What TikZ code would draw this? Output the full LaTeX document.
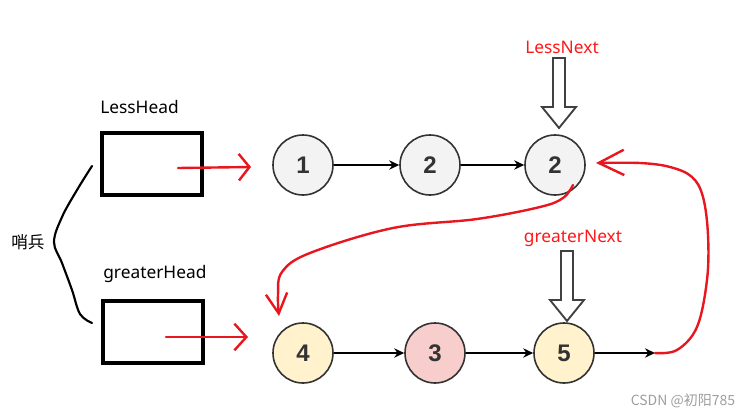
\documentclass[tikz,border=0pt]{standalone}
\usepackage{fontspec}
\setmainfont{Noto Sans}
\newfontfamily\cjkfont{Noto Sans CJK SC}
\newfontfamily\numfont{Liberation Sans}
\usetikzlibrary{positioning, arrows.meta}
\definecolor{handred}{RGB}{232,22,30}
\definecolor{lblred}{RGB}{255,24,24}
\definecolor{nodegray}{RGB}{243,243,243}
\definecolor{nodeyellow}{RGB}{255,242,204}
\definecolor{nodepink}{RGB}{248,206,204}
\tikzset{
    x=0.75pt, y=-0.75pt,      % one unit = one pixel, y downwards
    node distance=95pt,
    listnode/.style={         % list element
        circle,
        draw=black!80,
        line width=1.2pt,
        minimum size=45pt,
        inner sep=0pt,
        text=black!80,
        font=\numfont\bfseries\fontsize{18}{18}\selectfont
    },
    headbox/.style={          % sentinel head
        draw,
        line width=3pt,
        minimum width=75pt,
        minimum height=46.5pt,
        inner sep=0pt
    },
    lbl/.style={font=\fontsize{13}{13}\selectfont, inner sep=0pt},
    redlbl/.style={lbl, text=lblred},
    link/.style={
        line width=1.2pt,
        -{Stealth[length=7.5pt, width=7pt]}
    },
    handline/.style={handred, line width=1.8pt, line cap=round, line join=round},
    handarrow/.style 2 args={
        handline,
        -{Straight Barb[length=#1, width=#2, line width=1.8pt]}
    },
    hollowarrow/.pic={
        \draw[line width=1.4pt, draw=black!75, fill=white]
            (-6,0) -- (-6,49) -- (-17,49) -- (0,70) -- (17,49) -- (6,49) -- (6,0) -- cycle;
    }
}

\begin{document}
\begin{tikzpicture}
    \useasboundingbox (0,0) rectangle (754,418);

    % sentinel heads
    \node[headbox] (lh) at (152,164) {};
    \node[headbox] (gh) at (152.5,332) {};
    \node[lbl, anchor=west] (lhlbl) at (100,107) {LessHead};
    \node[lbl, anchor=west] (ghlbl) at (103,274) {greaterHead};

    % brace and its label
    \draw[line width=1.6pt, line cap=round] plot[smooth, tension=0.6] coordinates
        {(92,166) (77,190) (62,217) (54,242) (62,263) (72,290) (80,314) (92,323)};
    \node[font=\cjkfont\fontsize{12.5}{12.5}\selectfont, inner sep=0pt] (sb) at (28,242) {哨兵};

    % less list
    \node[listnode, fill=nodegray] (ln1) at (303,165) {1};
    \node[listnode, fill=nodegray, on grid, right=95.25pt of ln1] (ln2) {2};
    \node[listnode, fill=nodegray, on grid, right=93.75pt of ln2] (ln3) {2};
    \draw[link] (ln1) -- (ln2);
    \draw[link] (ln2) -- (ln3);

    % greater list
    \node[listnode, fill=nodeyellow] (gn1) at (303,353) {4};
    \node[listnode, fill=nodepink, on grid, right=99pt of gn1] (gn2) {3};
    \node[listnode, fill=nodeyellow, on grid, right=96.75pt of gn2] (gn3) {5};
    \coordinate (tail) at (655,353);
    \draw[link] (gn1) -- (gn2);
    \draw[link] (gn2) -- (gn3);
    \draw[link] (gn3) -- (tail);

    % tail pointers
    \node[redlbl] (lnext) at (562,47) {LessNext};
    \pic at (559,58) {hollowarrow};
    \node[redlbl] (gnext) at (573,238) {greaterNext};
    \pic at (567,251) {hollowarrow};

    % hand drawn links
    \coordinate (lhs) at (178,168);
    \coordinate (lht) at (251,167);
    \coordinate (ghs) at (166,337);
    \coordinate (ght) at (248,337);
    \draw[handarrow={8pt}{20pt}] (lhs) -- (lht);
    \draw[handarrow={9pt}{20pt}] (ghs) -- (ght);
    \coordinate (ltail) at (573,185);
    \coordinate (gtip) at (279,316);
    \coordinate (ltip) at (596,163);
    \draw[handarrow={15pt}{16pt}] plot[smooth, tension=0.6] coordinates
        {(ltail) (563,198) (540,207) (477,219) (393,228) (310,253) (282,272) (278,295) (gtip)};
    \draw[handarrow={19pt}{19pt}] plot[smooth, tension=0.6] coordinates
        {(tail) (677,350) (697,327) (707,280) (708,235) (703,197) (692,177) (670,167) (640,163) (ltip)};

    % watermark
    \node[font=\cjkfont\fontsize{10.5}{10.5}\selectfont, text=black!38, inner sep=0pt] (wm) at (683,401) {CSDN @初阳785};
\end{tikzpicture}
\end{document}
